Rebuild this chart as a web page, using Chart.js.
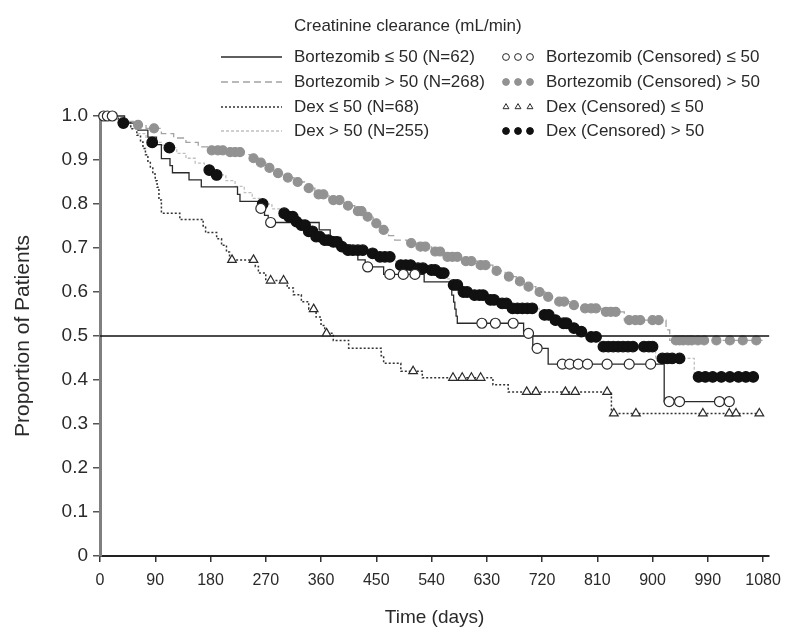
<!DOCTYPE html>
<html>
<head>
<meta charset="utf-8">
<title>Creatinine clearance - proportion of patients</title>
<script src="https://cdn.jsdelivr.net/npm/chart.js@4.4.1/dist/chart.umd.min.js"></script>
<style>
  html, body { margin: 0; padding: 0; background: #fff; }
  #wrap { width: 790px; height: 632px; }
</style>
</head>
<body>
<div id="wrap"><canvas id="kmChart" width="790" height="632"></canvas></div>
<script>
// Axis ticks
const xTicks = [0, 90, 180, 270, 360, 450, 540, 630, 720, 810, 900, 990, 1080];
const yTicks = [0, 0.1, 0.2, 0.3, 0.4, 0.5, 0.6, 0.7, 0.8, 0.9, 1.0];
const yTickLabels = ['0', '0.1', '0.2', '0.3', '0.4', '0.5', '0.6', '0.7', '0.8', '0.9', '1.0'];
const medianLevel = 0.5;

// Legend text
const legendTitle = 'Creatinine clearance (mL/min)';
const seriesLabels = ['Bortezomib \u2264 50 (N=62)', 'Bortezomib > 50 (N=268)', 'Dex \u2264 50 (N=68)', 'Dex > 50 (N=255)'];
const censoredLabels = ['Bortezomib (Censored) \u2264 50', 'Bortezomib (Censored) > 50', 'Dex (Censored) \u2264 50', 'Dex (Censored) > 50'];

// Kaplan-Meier steps, [day, proportion] (value after each drop)
const bortLe50 = [[0,1.000],[40,0.984],[62,0.968],[78,0.952],[92,0.935],[100,0.903],[114,0.887],[118,0.871],[145,0.855],[165,0.839],
  [224,0.822],[228,0.806],[258,0.790],[268,0.774],[274,0.758],[357,0.741],[375,0.724],[392,0.707],[408,0.690],[420,0.673],
  [432,0.657],[462,0.640],[528,0.623],[570,0.609],[573,0.593],[576,0.577],[578,0.561],[580,0.545],[582,0.529],[690,0.506],
  [705,0.472],[730,0.436],[919,0.351],[1025,0.351]];
const bortGt50 = [[0,1.000],[20,0.996],[40,0.988],[55,0.980],[75,0.972],[100,0.960],[120,0.950],[140,0.940],[160,0.930],[178,0.922],
  [205,0.918],[232,0.912],[245,0.904],[258,0.894],[270,0.882],[282,0.870],[300,0.860],[316,0.850],[333,0.836],[350,0.822],
  [373,0.809],[398,0.796],[415,0.784],[430,0.771],[445,0.756],[457,0.741],[470,0.728],[480,0.718],[500,0.711],[518,0.703],
  [540,0.692],[560,0.680],[590,0.670],[615,0.661],[640,0.648],[660,0.635],[678,0.624],[692,0.612],[710,0.600],[725,0.589],
  [742,0.578],[765,0.570],[785,0.563],[818,0.555],[854,0.536],[922,0.514],[928,0.490],[1080,0.490]];
const dexLe50 = [[0,1.000],[30,0.985],[50,0.971],[60,0.956],[66,0.941],[70,0.926],[74,0.912],[78,0.897],[82,0.882],[86,0.868],
  [90,0.853],[93,0.838],[96,0.809],[100,0.779],[130,0.765],[168,0.750],[172,0.735],[190,0.721],[198,0.706],[206,0.691],
  [211,0.673],[253,0.658],[258,0.643],[270,0.626],[305,0.609],[315,0.594],[328,0.578],[340,0.561],[352,0.543],[360,0.524],
  [366,0.506],[380,0.490],[405,0.472],[458,0.455],[462,0.438],[490,0.420],[525,0.405],[640,0.389],[665,0.373],[833,0.324],
  [1074,0.324]];
const dexGt50 = [[0,1.000],[25,0.992],[32,0.984],[50,0.972],[62,0.960],[75,0.950],[82,0.940],[100,0.934],[110,0.928],[125,0.915],
  [140,0.904],[155,0.893],[170,0.882],[176,0.877],[185,0.866],[205,0.853],[220,0.840],[235,0.826],[248,0.813],[260,0.800],
  [280,0.789],[295,0.779],[306,0.771],[318,0.760],[326,0.752],[338,0.738],[350,0.726],[362,0.718],[376,0.714],[390,0.703],
  [400,0.695],[440,0.688],[452,0.680],[480,0.670],[486,0.661],[512,0.654],[535,0.650],[550,0.643],[565,0.630],[572,0.616],
  [588,0.600],[605,0.593],[630,0.582],[650,0.574],[668,0.563],[715,0.555],[720,0.548],[737,0.536],[750,0.529],[768,0.518],
  [778,0.510],[794,0.498],[815,0.476],[905,0.449],[968,0.407],[1064,0.407]];

// Censored marks, [day, proportion]
const bortLe50Cens = [[6,1.000],[12,1.000],[20,1.000],[262,0.790],[278,0.758],[436,0.657],[472,0.640],[494,0.640],[513,0.640],
  [622,0.529],[644,0.529],[673,0.529],[698,0.506],[712,0.472],[753,0.436],[765,0.436],[779,0.436],[794,0.436],[826,0.436],
  [862,0.436],[897,0.436],[927,0.351],[944,0.351],[1009,0.351],[1025,0.351]];
const bortGt50Cens = [[62,0.980],[88,0.972],[182,0.922],[192,0.922],[200,0.922],[212,0.918],[220,0.918],[228,0.918],[250,0.904],
  [262,0.894],[276,0.882],[290,0.870],[306,0.860],[322,0.850],[340,0.836],[356,0.822],[364,0.822],[380,0.809],[390,0.809],
  [404,0.796],[420,0.784],[426,0.784],[436,0.771],[450,0.756],[462,0.741],[507,0.711],[522,0.703],[530,0.703],[546,0.692],
  [554,0.692],[566,0.680],[574,0.680],[582,0.680],[596,0.670],[605,0.670],[620,0.661],[628,0.661],[646,0.648],[666,0.635],
  [684,0.624],[698,0.612],[716,0.600],[730,0.589],[748,0.578],[756,0.578],[772,0.570],[790,0.563],[800,0.563],[808,0.563],
  [824,0.555],[832,0.555],[840,0.555],[862,0.536],[872,0.536],[880,0.536],[900,0.536],[910,0.536],[938,0.490],[944,0.490],
  [950,0.490],[958,0.490],[964,0.490],[974,0.490],[984,0.490],[1004,0.490],[1026,0.490],[1047,0.490],[1069,0.490]];
const dexLe50Cens = [[215,0.673],[250,0.673],[278,0.626],[299,0.626],[348,0.561],[369,0.506],[510,0.420],[575,0.405],[590,0.405],
  [605,0.405],[620,0.405],[695,0.373],[710,0.373],[758,0.373],[774,0.373],[826,0.373],[837,0.324],[873,0.324],[982,0.324],
  [1025,0.324],[1036,0.324],[1074,0.324]];
const dexGt50Cens = [[38,0.984],[85,0.940],[113,0.928],[178,0.877],[190,0.866],[265,0.800],[300,0.779],[308,0.771],[314,0.771],
  [320,0.760],[328,0.752],[334,0.752],[340,0.738],[346,0.738],[352,0.726],[358,0.726],[366,0.718],[372,0.718],[380,0.714],
  [386,0.714],[394,0.703],[404,0.695],[412,0.695],[420,0.695],[428,0.695],[444,0.688],[456,0.680],[464,0.680],[472,0.680],
  [490,0.661],[498,0.661],[506,0.661],[518,0.654],[526,0.654],[540,0.650],[546,0.650],[555,0.643],[560,0.643],[576,0.616],
  [582,0.616],[592,0.600],[598,0.600],[610,0.593],[618,0.593],[624,0.593],[636,0.582],[642,0.582],[655,0.574],[662,0.574],
  [672,0.563],[680,0.563],[688,0.563],[696,0.563],[704,0.563],[724,0.548],[731,0.548],[742,0.536],[755,0.529],[760,0.529],
  [772,0.518],[784,0.510],[800,0.498],[808,0.498],[820,0.476],[828,0.476],[836,0.476],[844,0.476],[852,0.476],[860,0.476],
  [868,0.476],[886,0.476],[894,0.476],[900,0.476],[916,0.449],[924,0.449],[932,0.449],[944,0.449],[975,0.407],[986,0.407],
  [998,0.407],[1012,0.407],[1026,0.407],[1040,0.407],[1052,0.407],[1064,0.407]];

const X_MAX = 1090;
const FONT = '"Liberation Sans", Arial, Helvetica, sans-serif';
const toXY = arr => arr.map(([x, y]) => ({ x: x, y: y }));

// Step line for one arm
function stepLine(label, data, color, dash, width) {
    return {
        type: 'line', label: label, data: toXY(data),
        borderColor: color, borderDash: dash, borderWidth: width,
        stepped: 'before', pointRadius: 0, fill: false, clip: false, order: 20
    };
}

// Censored marks for one arm
function censorMarks(label, data, style, fill, stroke, radius, order) {
    return {
        type: 'scatter', label: label, data: toXY(data),
        pointStyle: style, pointRadius: radius, backgroundColor: fill,
        borderColor: stroke, pointBorderWidth: 1.2, clip: false, order: order
    };
}

// Draws the two-column legend at the top
const kmLegend = {
    id: 'kmLegend',
    afterDraw(chart) {
        const ctx = chart.ctx;
        const sets = chart.data.datasets;
        const rowY = [57, 82, 107, 131];
        ctx.save();
        ctx.font = '17px ' + FONT;
        ctx.fillStyle = '#2a2a2a';
        ctx.textBaseline = 'middle';
        ctx.fillText(legendTitle, 294, 26);
        for (let i = 0; i < 4; i++) {
            const line = sets[i];
            const marks = sets[i + 4];
            const y = rowY[i];
            // line sample
            ctx.save();
            ctx.strokeStyle = line.borderColor;
            ctx.lineWidth = line.borderWidth;
            ctx.setLineDash(line.borderDash || []);
            ctx.beginPath();
            ctx.moveTo(221, y);
            ctx.lineTo(282, y);
            ctx.stroke();
            ctx.restore();
            ctx.fillStyle = '#2a2a2a';
            ctx.fillText(seriesLabels[i], 294, y);
            // marker sample
            ctx.save();
            ctx.fillStyle = marks.backgroundColor;
            ctx.strokeStyle = marks.borderColor;
            ctx.lineWidth = 1;
            [506, 518, 530].forEach((mx) => {
                Chart.helpers.drawPoint(ctx, { pointStyle: marks.pointStyle, rotation: 0, radius: 3.4, borderWidth: 1 }, mx, y);
            });
            ctx.restore();
            ctx.fillText(censoredLabels[i], 546, y);
        }
        ctx.restore();
    }
};

const ctx = document.getElementById('kmChart').getContext('2d');
const chart = new Chart(ctx, {
    type: 'line',
    data: {
        datasets: [
            stepLine(seriesLabels[0], bortLe50, '#2a2a2a', [], 1.3),
            stepLine(seriesLabels[1], bortGt50, '#a3a3a3', [7, 4], 1.3),
            stepLine(seriesLabels[2], dexLe50, '#333333', [2, 2], 1.5),
            stepLine(seriesLabels[3], dexGt50, '#c0c0c0', [3, 2], 1.3),
            censorMarks(censoredLabels[0], bortLe50Cens, 'circle', '#ffffff', '#2a2a2a', 5, 1),
            censorMarks(censoredLabels[1], bortGt50Cens, 'circle', '#929292', '#929292', 4.5, 8),
            censorMarks(censoredLabels[2], dexLe50Cens, 'triangle', '#ffffff', '#2a2a2a', 5, 2),
            censorMarks(censoredLabels[3], dexGt50Cens, 'circle', '#111111', '#111111', 5.3, 3),
            {
                type: 'line', label: 'median', data: [{ x: 0, y: medianLevel }, { x: X_MAX, y: medianLevel }],
                borderColor: '#111', borderWidth: 1.6, pointRadius: 0, clip: false, order: 5
            }
        ]
    },
    options: {
        responsive: false,
        animation: false,
        devicePixelRatio: 1,
        layout: { padding: { top: 116, right: 18, left: 0, bottom: 0 } },
        plugins: { legend: { display: false }, tooltip: { enabled: false } },
        scales: {
            x: {
                type: 'linear', min: 0, max: X_MAX,
                afterBuildTicks: (s) => { s.ticks = xTicks.map(v => ({ value: v })); },
                afterFit: (s) => { s.height = 76; },
                ticks: {
                    autoSkip: false, maxRotation: 0, padding: 9, color: '#2a2a2a',
                    font: { family: FONT, size: 16 },
                    callback: (v) => String(v)
                },
                grid: { drawOnChartArea: false, drawTicks: true, tickLength: 6, color: '#333', lineWidth: 1.5 },
                border: { display: true, color: '#222', width: 2 },
                title: {
                    display: true, text: 'Time (days)', color: '#2a2a2a',
                    font: { family: FONT, size: 19 }, padding: { top: 0, bottom: 3 }
                }
            },
            y: {
                min: 0, max: 1,
                afterBuildTicks: (s) => { s.ticks = yTicks.map(v => ({ value: v })); },
                afterFit: (s) => { s.width = 100; },
                ticks: {
                    padding: 5, color: '#2a2a2a', font: { family: FONT, size: 19 },
                    callback: (v, i) => yTickLabels[i]
                },
                grid: { drawOnChartArea: false, drawTicks: true, tickLength: 7, color: '#555', lineWidth: 1.5 },
                border: { display: true, color: '#808080', width: 3 },
                title: {
                    display: true, text: 'Proportion of Patients', color: '#2a2a2a',
                    font: { family: FONT, size: 21 }, padding: { top: 11, bottom: 0 }
                }
            }
        }
    },
    plugins: [kmLegend]
});
</script>
</body>
</html>
